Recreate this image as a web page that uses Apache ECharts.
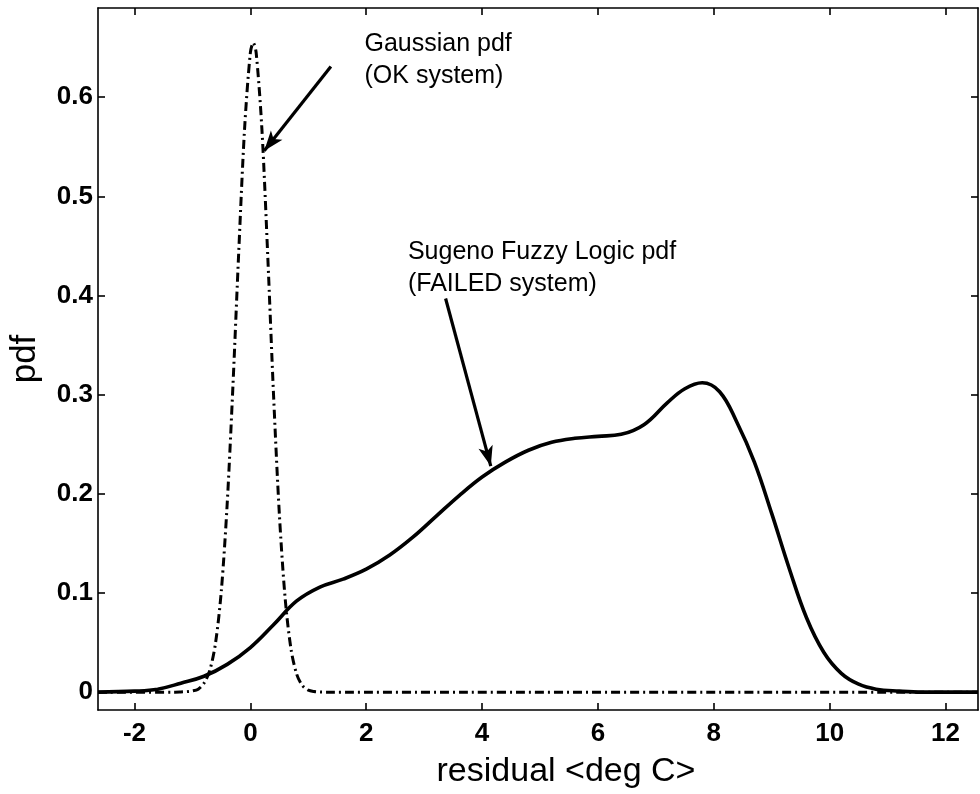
<!DOCTYPE html>
<html><head><meta charset="utf-8">
<script src="https://cdn.jsdelivr.net/npm/echarts@6/dist/echarts.min.js"></script>
<style>html,body{margin:0;padding:0;background:#fff}#c{width:980px;height:794px}</style>
</head><body><div id="c"></div>
<script>
const xTicks = [-2, 0, 2, 4, 6, 8, 10, 12];
const yTicks = [0, 0.1, 0.2, 0.3, 0.4, 0.5, 0.6];
const xRange = [-2.63, 12.56];
const yRange = [-0.018, 0.69];

const gaussX = [-2.63, -1.3, -1.2, -1.1, -1.0, -0.9, -0.8, -0.7, -0.6, -0.5, -0.4, -0.3, -0.2, -0.1, 0.0, 0.05, 0.1, 0.2, 0.3, 0.4, 0.5, 0.6, 0.7, 0.8, 0.9, 1.0, 1.1, 1.2, 1.3, 12.56];
const gaussY = [0, 0, 0.0002, 0.0005, 0.0012, 0.003, 0.009, 0.022, 0.05, 0.103, 0.19, 0.31, 0.445, 0.568, 0.645, 0.655, 0.645, 0.567, 0.44, 0.30, 0.18, 0.095, 0.044, 0.018, 0.0065, 0.002, 0.0006, 0.0001, 0, 0];

const sugenoX = [-2.63, -2.0, -1.6, -1.2, -0.8, -0.4, 0.0, 0.4, 0.8, 1.2, 1.6, 2.0, 2.4, 2.8, 3.2, 3.6, 4.0, 4.4, 4.8, 5.2, 5.6, 6.0, 6.4, 6.8, 7.2, 7.5, 7.8, 8.1, 8.4, 8.7, 9.0, 9.3, 9.6, 9.9, 10.2, 10.5, 10.8, 11.2, 11.6, 12.56];
const sugenoY = [0, 0.001, 0.003, 0.009, 0.016, 0.028, 0.045, 0.068, 0.092, 0.106, 0.114, 0.124, 0.138, 0.156, 0.177, 0.198, 0.217, 0.232, 0.244, 0.252, 0.256, 0.258, 0.260, 0.270, 0.292, 0.306, 0.312, 0.303, 0.272, 0.232, 0.180, 0.125, 0.075, 0.040, 0.019, 0.008, 0.003, 0.001, 0, 0];

const gaussLabel = ['Gaussian pdf', '(OK system)'];
const sugenoLabel = ['Sugeno Fuzzy Logic pdf', '(FAILED system)'];
const gaussArrow = [[1.39, 0.631], [0.24, 0.546]];
const sugenoArrow = [[3.37, 0.397], [4.15, 0.228]];
const gaussTextAnchor = [1.97, 0.670];
const sugenoTextAnchor = [2.72, 0.460];

const zip = (a, b) => a.map((v, i) => [v, b[i]]);
const FONT = '"Liberation Sans", Arial, Helvetica, sans-serif';

const chart = echarts.init(document.getElementById('c'), null, {renderer: 'canvas'});

const axisCommon = {
  type: 'value',
  axisLine: {show: true, onZero: false, lineStyle: {color: '#000', width: 1.6}},
  axisTick: {show: true, inside: true, length: 7, lineStyle: {color: '#000', width: 1.6}},
  splitLine: {show: false}
};
const labelStyle = {color: '#000', fontFamily: FONT, fontWeight: 'bold', fontSize: 26};

const arrowLine = (seg) => [{coord: seg[0]}, {coord: seg[1]}];

chart.setOption({
  animation: false,
  backgroundColor: '#fff',
  grid: {left: 97, right: 2, top: 8, bottom: 77, containLabel: false},
  xAxis: [
    Object.assign({}, axisCommon, {
      position: 'bottom', min: xRange[0], max: xRange[1],
      axisTick: Object.assign({}, axisCommon.axisTick, {customValues: xTicks}),
      axisLabel: Object.assign({}, labelStyle, {customValues: xTicks, margin: 11}),
      name: 'residual <deg C>', nameLocation: 'middle', nameGap: 45,
      nameTextStyle: {color: '#000', fontFamily: FONT, fontSize: 34, padding: [0, 0, 0, 56]}
    }),
    Object.assign({}, axisCommon, {
      position: 'top', min: xRange[0], max: xRange[1],
      axisTick: Object.assign({}, axisCommon.axisTick, {customValues: xTicks}),
      axisLabel: {show: false}
    })
  ],
  yAxis: [
    Object.assign({}, axisCommon, {
      position: 'left', min: yRange[0], max: yRange[1],
      axisTick: Object.assign({}, axisCommon.axisTick, {customValues: yTicks}),
      axisLabel: Object.assign({}, labelStyle, {customValues: yTicks, margin: 5}),
      name: 'pdf', nameLocation: 'middle', nameGap: 55, nameRotate: 90,
      nameTextStyle: {color: '#000', fontFamily: FONT, fontSize: 35}
    }),
    Object.assign({}, axisCommon, {
      position: 'right', min: yRange[0], max: yRange[1],
      axisTick: Object.assign({}, axisCommon.axisTick, {customValues: yTicks}),
      axisLabel: {show: false}
    })
  ],
  series: [
    {
      name: 'Sugeno', type: 'line', data: zip(sugenoX, sugenoY), smooth: 0.4,
      showSymbol: false, lineStyle: {color: '#000', width: 3.6}, z: 3, silent: true,
      markLine: {
        silent: true, symbol: ['none', 'arrow'], symbolSize: [11, 20],
        label: {show: false},
        lineStyle: {color: '#000', width: 3.2, type: 'solid'},
        data: [arrowLine(sugenoArrow), arrowLine(gaussArrow)]
      }
    },
    {
      name: 'Gaussian', type: 'line', data: zip(gaussX, gaussY), smooth: 0.3,
      showSymbol: false, lineStyle: {color: '#000', width: 3, type: [9, 4, 2, 4]}, z: 2, silent: true
    }
  ]
});

function place() {
  const g = chart.convertToPixel({gridIndex: 0}, gaussTextAnchor);
  const s = chart.convertToPixel({gridIndex: 0}, sugenoTextAnchor);
  const txt = (p, lines) => ({
    type: 'text', x: p[0], y: p[1], silent: true,
    style: {text: lines.join('\n'), fill: '#000', font: '25px ' + FONT, lineHeight: 32, verticalAlign: 'top', align: 'left'}
  });
  chart.setOption({graphic: [txt(g, gaussLabel), txt(s, sugenoLabel)]});
}
place();
</script></body></html>
